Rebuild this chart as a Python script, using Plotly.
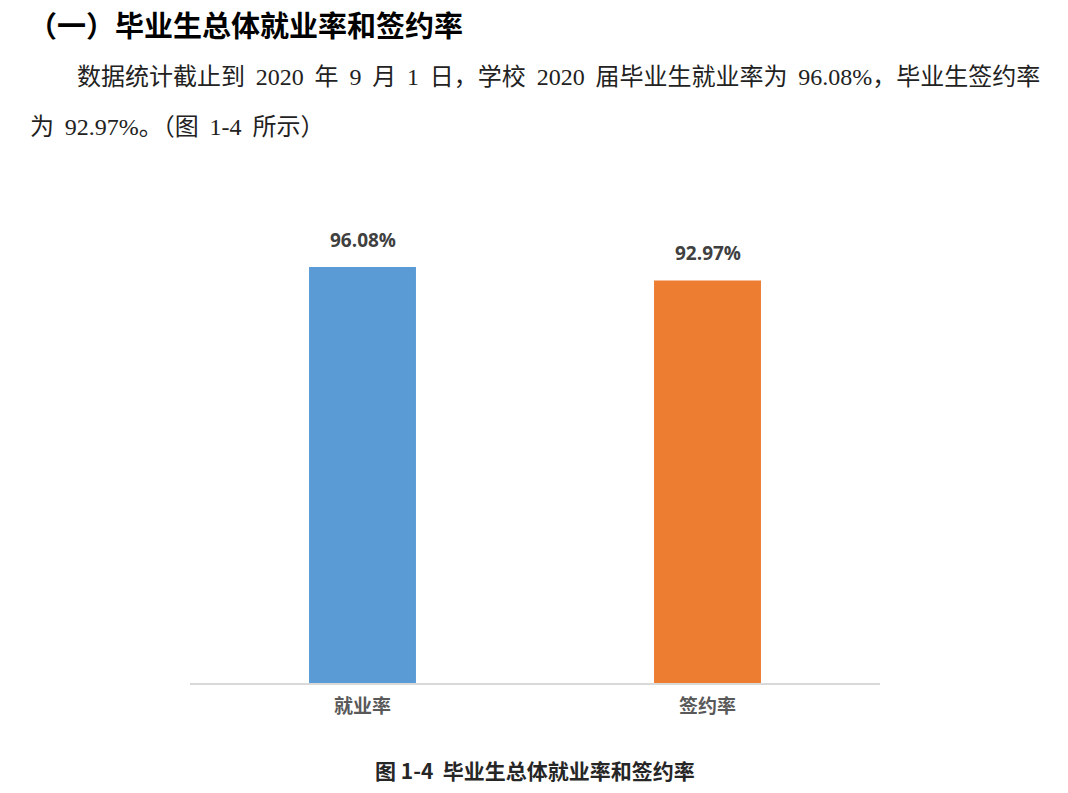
import plotly.graph_objects as go

categories = ["就业率", "签约率"]
values = [96.08, 92.97]
colors = ["#5B9BD5", "#ED7D31"]
value_labels = ["96.08%", "92.97%"]

heading = "（一）毕业生总体就业率和签约率"
para_line1 = "数据统计截止到 2020 年 9 月 1 日，学校 2020 届毕业生就业率为 96.08%，毕业生签约率"
para_line2 = "为 92.97%。（图 1-4 所示）"
caption = "图 1-4  毕业生总体就业率和签约率"

cjk = "Noto Sans CJK SC"
serif = "Liberation Serif, Noto Sans CJK SC"

W, H = 1068, 793
l, r, t, b = 190, 188, 250, 110
pw, ph = W - l - r, H - t - b

fig = go.Figure(go.Bar(
    x=categories, y=values, marker_color=colors, marker_line_width=0,
    width=0.31, hoverinfo="x+y",
))

annotations = []
for c, v, lab in zip(categories, values, value_labels):
    annotations.append(dict(x=c, y=v, xref="x", yref="y", text=lab, showarrow=False,
                            xanchor="center", yanchor="bottom", yshift=12,
                            font=dict(family="Open Sans, " + cjk, size=19, color="#404040",
                                      weight="bold")))


def px_ann(text, x, y, xanchor, size, family, color, bold=False):
    f = dict(family=family, size=size, color=color)
    if bold:
        f["weight"] = "bold"
    return dict(text=text, x=(x - l) / pw, y=(H - b - y) / ph, xref="paper", yref="paper",
                showarrow=False, xanchor=xanchor, yanchor="middle", font=f)


def justify(s):
    # slightly wider inter-word spaces, like the justified line of the original document
    return s.replace(" ", " \u2009")


annotations += [
    px_ann(heading, 26, 24, "left", 29, cjk, "black", True),
    px_ann(justify(para_line1), 75, 77, "left", 24, serif, "#222222"),
    px_ann(justify(para_line2), 28, 127, "left", 24, serif, "#222222"),
    px_ann(caption, 535, 770, "center", 21, cjk, "#262626", True),
]

fig.update_layout(
    width=W, height=H,
    margin=dict(l=l, r=r, t=t, b=b),
    paper_bgcolor="white", plot_bgcolor="white",
    showlegend=False,
    xaxis=dict(showline=True, linecolor="#D9D9D9", linewidth=1.5, ticks="",
               tickfont=dict(family=cjk, size=19, color="#595959", weight="bold"),
               ticklabelstandoff=5, showgrid=False),
    yaxis=dict(range=[0, 100], visible=False, showgrid=False),
    annotations=annotations,
)

fig.write_html("out.html")
